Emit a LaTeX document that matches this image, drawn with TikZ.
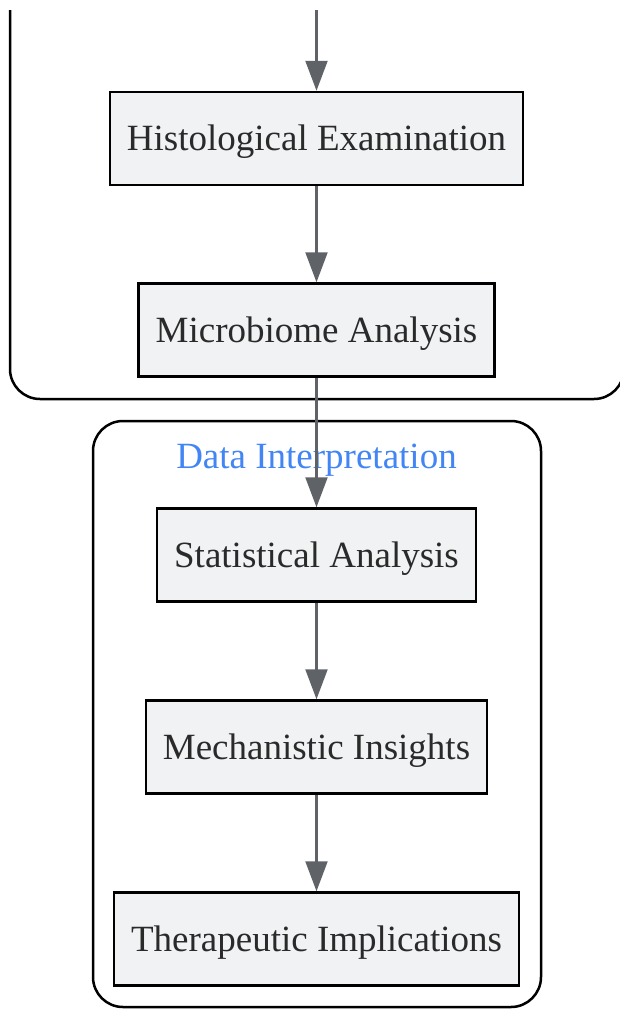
\documentclass[tikz,border=0pt]{standalone}
\usepackage{fontspec}
\setmainfont{Liberation Serif}
\usetikzlibrary{arrows.meta}
\definecolor{boxfill}{HTML}{F1F2F4}
\definecolor{edgegray}{HTML}{5F6368}
\definecolor{titleblue}{HTML}{4285F4}
\definecolor{textdark}{HTML}{2A2A2A}
\tikzset{
  stepbox/.style={draw=black, line width=2.5pt, fill=boxfill, minimum height=93pt,
    inner xsep=17pt, font=\fontsize{37}{44}\selectfont, text=textdark,
    text height=24.5pt, text depth=0pt},
  flow/.style={draw=edgegray, line width=2.2pt, -{Triangle[length=30pt,width=22pt]}},
  cluster/.style={draw=black, line width=2.5pt, rounded corners=30pt}
}
\begin{document}
\begin{tikzpicture}[x=1pt,y=-1pt]
  \useasboundingbox (0,0) rectangle (620,1009);
  % clusters
  \begin{scope}
    \clip (0,10) rectangle (620,1009);
    \draw[cluster] (10,-40) -- (10,399) -- (624,399) -- (624,-40);
  \end{scope}
  \draw[cluster] (93,421) rectangle (541,1007);
  \node[text=titleblue, font=\fontsize{37}{44}\selectfont, text height=24.5pt, text depth=0pt]
    (interp) at (316.5,456) {Data Interpretation};
  % steps
  \coordinate (entry) at (316.5,10);
  \node[stepbox] (histo) at (316.5,138.5) {Histological Examination};
  \node[stepbox] (micro) at (316.5,330) {Microbiome Analysis};
  \node[stepbox] (stats) at (316.5,555) {Statistical Analysis};
  \node[stepbox] (mech) at (316.5,747) {Mechanistic Insights};
  \node[stepbox] (thera) at (316.5,939) {Therapeutic Implications};
  % arrows
  \draw[flow] (entry) -- (histo);
  \draw[flow] (histo) -- (micro);
  \draw[flow] (micro) -- (stats);
  \draw[flow] (stats) -- (mech);
  \draw[flow] (mech) -- (thera);
\end{tikzpicture}
\end{document}
